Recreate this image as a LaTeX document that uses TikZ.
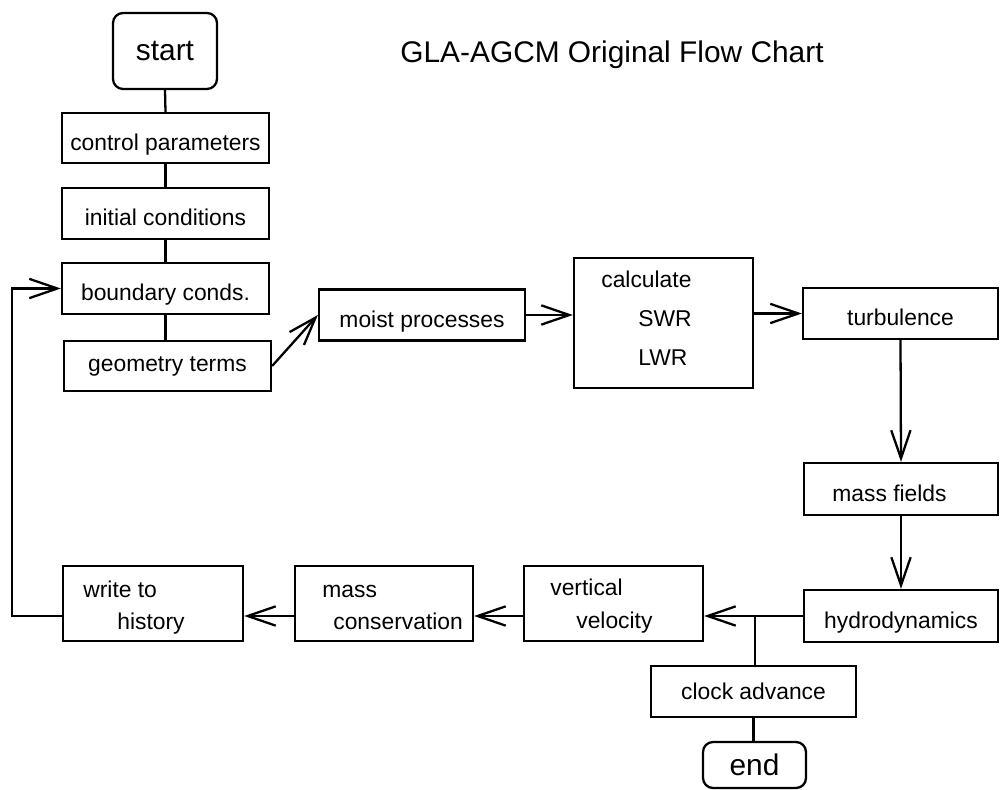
\documentclass[tikz,border=0pt]{standalone}
\usepackage{fontspec}
\setmainfont{Liberation Sans}
\usetikzlibrary{arrows.meta}
\tikzset{
	box/.style={draw, line width=1.3pt, inner sep=2pt, font=\fontsize{13}{15}\selectfont},
	lowbox/.style={box, text height=14pt, text depth=0pt},
	term/.style={box, rounded corners=0.2cm, font=\fontsize{17}{20}\selectfont},
	txt/.style={inner sep=0pt, anchor=base west, font=\fontsize{13}{15}\selectfont},
	link/.style={line width=1.3pt},
	arr/.style={link, -{Straight Barb[length=16pt, width=11pt]}},
}

\begin{document}
\begin{tikzpicture}[x=0.02cm, y=-0.02cm]
			%%%%% START %%%%%
			\useasboundingbox (0,0) rectangle (1000,790);
			
			\node[font=\fontsize{17}{20}\selectfont, anchor=base] (title) at (612,63) {GLA-AGCM Original Flow Chart};
			
			% left column
			\node[term, minimum width=2.08cm, minimum height=1.52cm] (start) at (165,51) {start};
			\node[lowbox, minimum width=4.14cm, minimum height=1cm] (ctrl) at (165.5,138) {control parameters};
			\node[lowbox, minimum width=4.14cm, minimum height=1.02cm] (init) at (165.5,213.5) {initial conditions};
			\node[lowbox, minimum width=4.14cm, minimum height=1.02cm] (bound) at (165.5,288.5) {boundary conds.};
			\node[box, minimum width=4.14cm, minimum height=1cm] (geom) at (167.5,366) {geometry terms};
			
			% top row
			\node[lowbox, minimum width=4.12cm, minimum height=1.02cm] (moist) at (422,315) {moist processes};
			\node[box, minimum width=3.58cm, minimum height=2.6cm] (calc) at (663.5,323) {};
			\node[txt] (calcA) at (601,288) {calculate};
			\node[txt] (calcB) at (638,327) {SWR};
			\node[txt] (calcC) at (638,365) {LWR};
			\node[lowbox, minimum width=3.9cm, minimum height=1.02cm] (turb) at (900.5,313.5) {turbulence};
			
			% right column
			\node[box, minimum width=3.88cm, minimum height=1.04cm] (mass) at (901,489) {};
			\node[txt] (massT) at (832,501) {mass fields};
			\node[lowbox, minimum width=3.88cm, minimum height=1.04cm] (hydro) at (901,616) {hydrodynamics};
			\node[box, minimum width=4.1cm, minimum height=1.02cm] (clock) at (753.5,691.5) {clock advance};
			\node[term, minimum width=2.06cm, minimum height=0.92cm] (end) at (754.5,765) {end};
			
			% bottom row
			\node[box, minimum width=3.58cm, minimum height=1.5cm] (vert) at (613.5,603.5) {};
			\node[txt] (vertA) at (550,595) {vertical};
			\node[txt] (vertB) at (576,628) {velocity};
			\node[box, minimum width=3.56cm, minimum height=1.5cm] (massc) at (384,603.5) {};
			\node[txt] (masscA) at (322,597) {mass};
			\node[txt] (masscB) at (333,629) {conservation};
			\node[box, minimum width=3.6cm, minimum height=1.5cm] (write) at (153,603.5) {};
			\node[txt] (writeA) at (83,597) {write to};
			\node[txt] (writeB) at (117,629) {history};
			
			% connectors
			\draw[link] (start.south) -- (ctrl.north);
			\draw[link] (ctrl.south) -- (init.north);
			\draw[link] (init.south) -- (bound.north);
			\draw[link] (bound.south) -- (bound.south |- geom.north);
			\draw[arr] (geom.east) -- (moist.west);
			\draw[arr] (moist.east) -- (moist.east -| calc.west);
			\draw[arr] (calc.east |- turb.west) -- (turb.west);
			\draw[arr] (turb.south) -- (mass.north);
			\draw[arr] (mass.south) -- (hydro.north);
			\coordinate (split) at (755,616);
			\draw[arr] (hydro.west) -- (hydro.west -| vert.east);
			\draw[link] (split) -- (split |- clock.north);
			\draw[link] (clock.south) -- (clock.south |- end.north);
			\draw[arr] (vert.west |- split) -- (massc.east |- split);
			\draw[arr] (massc.west |- split) -- (write.east |- split);
			\draw[arr] (write.west |- split) -- ++(-50,0) |- (bound.west);
			
			%%%%% END %%%%%
\end{tikzpicture}
\end{document}
